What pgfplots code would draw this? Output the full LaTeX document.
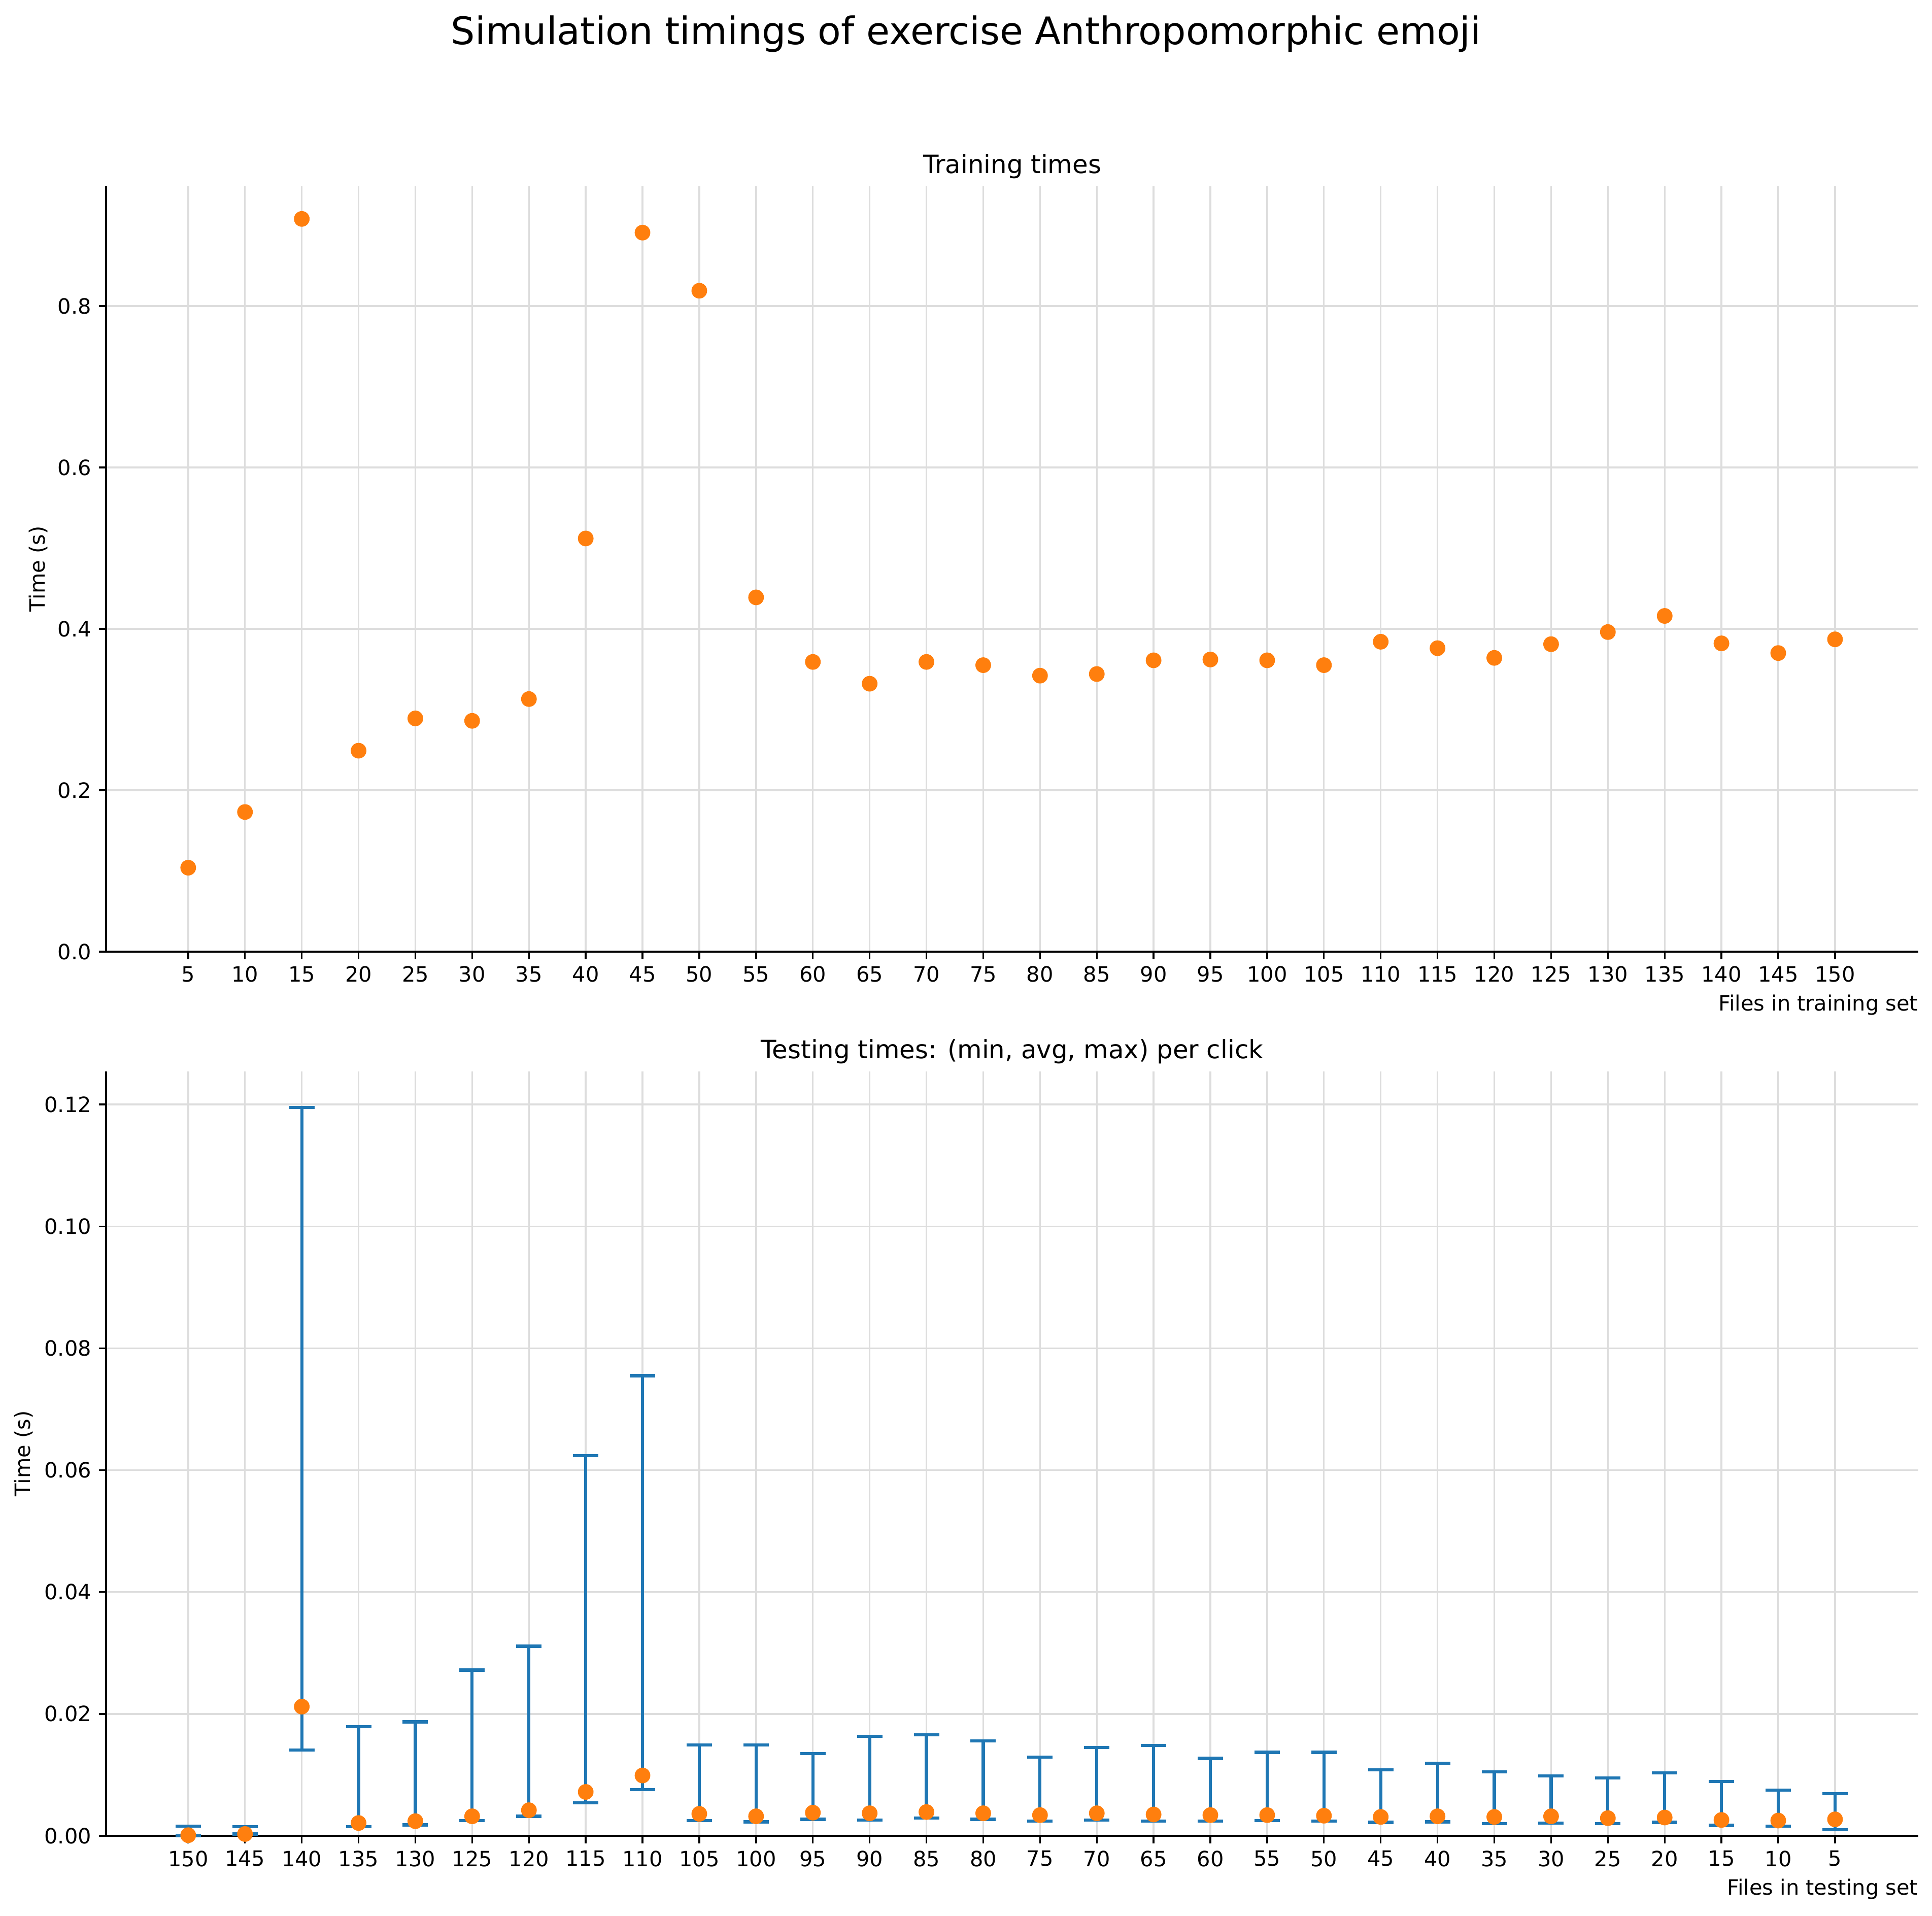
\documentclass[border=0pt]{standalone}
\usepackage{fontspec}
\setmainfont{DejaVu Sans}
\usepackage{pgfplots}
\usepackage{pgfplotstable}
\pgfplotsset{compat=1.18}
\definecolor{c0}{HTML}{1F77B4}
\definecolor{c1}{HTML}{FF7F0E}
\definecolor{gridc}{HTML}{DDDDDD}

\pgfplotstableread{
i v
0 0.104
1 0.173
2 0.908
3 0.249
4 0.289
5 0.286
6 0.313
7 0.512
8 0.891
9 0.819
10 0.439
11 0.359
12 0.332
13 0.359
14 0.355
15 0.342
16 0.344
17 0.361
18 0.362
19 0.361
20 0.355
21 0.384
22 0.376
23 0.364
24 0.381
25 0.396
26 0.416
27 0.382
28 0.370
29 0.387
}\train

\pgfplotstableread{
i mn avg mx
0 0.0000 0.0001 0.0016
1 0.0003 0.0003 0.0015
2 0.0141 0.0212 0.1195
3 0.0015 0.0021 0.0179
4 0.0018 0.0024 0.0187
5 0.0025 0.0032 0.0272
6 0.0032 0.0042 0.0311
7 0.0054 0.0072 0.0624
8 0.0076 0.0099 0.0755
9 0.0025 0.0036 0.0149
10 0.0023 0.0032 0.0149
11 0.0027 0.0038 0.0135
12 0.0026 0.0037 0.0163
13 0.0029 0.0039 0.0166
14 0.0027 0.0037 0.0156
15 0.0024 0.0034 0.0129
16 0.0026 0.0037 0.0145
17 0.0024 0.0035 0.0148
18 0.0024 0.0034 0.0127
19 0.0025 0.0034 0.0137
20 0.0024 0.0033 0.0137
21 0.0022 0.0031 0.0108
22 0.0023 0.0032 0.0119
23 0.0020 0.0031 0.0105
24 0.0021 0.0032 0.0098
25 0.0020 0.0029 0.0095
26 0.0022 0.0030 0.0103
27 0.0017 0.0026 0.0089
28 0.0016 0.0025 0.0075
29 0.0010 0.0027 0.0069
}\test

\pgfplotsset{
  mpl/.style={
    scale only axis,
    width=857bp,
    axis lines*=left,
    axis line style={line width=0.8bp, black},
    tick align=outside,
    major tick length=3.5bp,
    tick style={line width=0.8bp, black},
    xtick pos=bottom, ytick pos=left,
    grid=major,
    major grid style={line width=0.8bp, gridc},
    xmin=-1.445, xmax=30.466,
    xtick={0,...,29},
    /pgf/number format/assume math mode=true,
    tick label style={font=\fontsize{10}{12}\selectfont},
    label style={font=\fontsize{10}{12}\selectfont},
    title style={font=\fontsize{12}{14}\selectfont, at={(axis description cs:0.5,1)}, anchor=base, inner sep=0pt},
    xlabel style={at={(axis description cs:1,-0.0775)}, anchor=base east, inner sep=0pt},
    clip=false,
  }
}

\begin{document}
\begin{tikzpicture}
\useasboundingbox (-50.2bp,-37.7bp) rectangle (863.5bp,868.1bp);
\node[anchor=base, inner sep=0pt, font=\fontsize{18}{21}\selectfont] at (406.65bp,847.1bp) {Simulation timings of exercise Anthropomorphic emoji};

\begin{axis}[mpl,
  at={(0bp,418.1bp)}, anchor=south west,
  height=362bp,
  ymin=0, ymax=0.9487,
  ytick={0,0.2,0.4,0.6,0.8},
  yticklabel style={/pgf/number format/.cd, fixed, fixed zerofill, precision=1},
  xticklabels={5,10,15,20,25,30,35,40,45,50,55,60,65,70,75,80,85,90,95,100,105,110,115,120,125,130,135,140,145,150},
  title={Training times},
  xlabel={Files in training set},
  ylabel={Time (s)},
  ylabel style={at={(axis description cs:-0.0339,0.5)}, rotate=0, anchor=base, inner sep=0pt},
]
\addplot[only marks, mark=*, mark size=3.5bp, c1, mark options={draw=c1, fill=c1}] table[x=i, y=v] {\train};
\end{axis}

\begin{axis}[mpl,
  at={(0bp,0bp)}, anchor=south west,
  height=361.5bp,
  ymin=0, ymax=0.12544,
  ytick={0,0.02,0.04,0.06,0.08,0.10,0.12},
  yticklabel style={/pgf/number format/.cd, fixed, fixed zerofill, precision=2},
  xticklabels={150,145,140,135,130,125,120,115,110,105,100,95,90,85,80,75,70,65,60,55,50,45,40,35,30,25,20,15,10,5},
  title={Testing times: (min, avg, max) per click},
  xlabel={Files in testing set},
  ylabel={Time (s)},
  ylabel style={at={(axis description cs:-0.042,0.5)}, rotate=0, anchor=base, inner sep=0pt},
]
\addplot[only marks, mark=none, draw=c0, line width=1.5bp,
  error bars/.cd, y dir=both, y explicit,
  error bar style={line width=1.5bp, draw=c0, solid},
  error mark options={rotate=90, line width=1.5bp, mark size=6bp, draw=c0, solid}]
  table[x=i, y=avg, y error plus expr=\thisrow{mx}-\thisrow{avg}, y error minus expr=\thisrow{avg}-\thisrow{mn}] {\test};
\addplot[only marks, mark=*, mark size=3.5bp, c1, mark options={draw=c1, fill=c1}] table[x=i, y=avg] {\test};
\end{axis}
\end{tikzpicture}
\end{document}
